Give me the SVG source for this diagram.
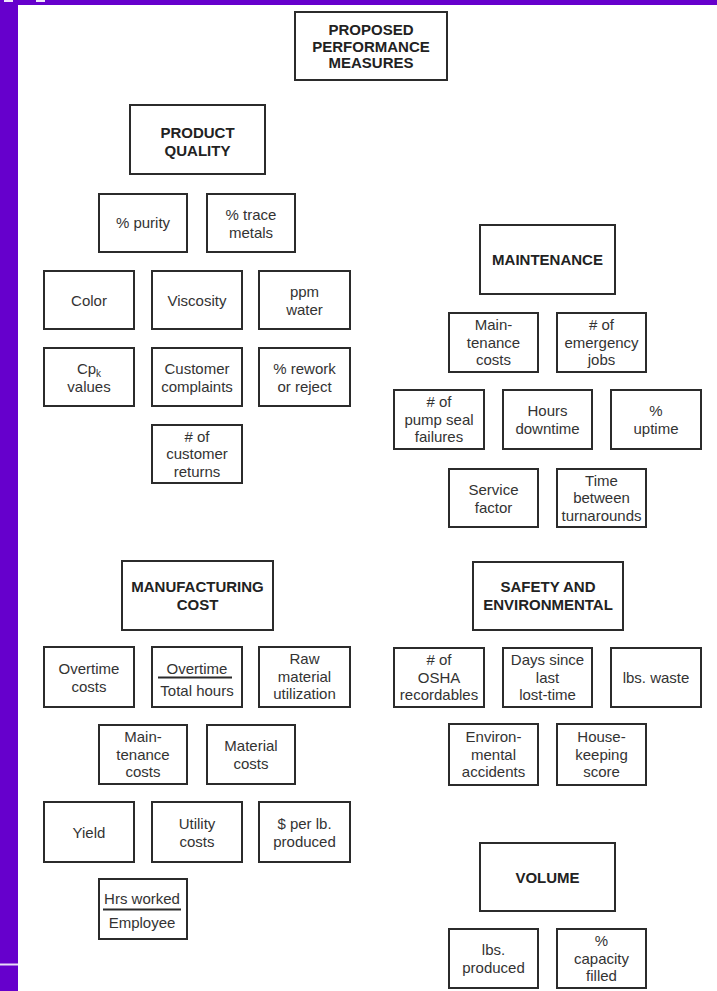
<svg xmlns="http://www.w3.org/2000/svg" width="717" height="991" viewBox="0 0 717 991">
<style>
.b{fill:#fff;stroke:#2b2b2b;stroke-width:2}
.t{font-family:"Liberation Sans",Arial,sans-serif;font-size:15px;fill:#333;text-anchor:middle}
.h{font-family:"Liberation Sans",Arial,sans-serif;font-size:15px;font-weight:bold;fill:#222;text-anchor:middle}
.f{stroke:#2b2b2b;stroke-width:2}
</style>
<rect x="0" y="0" width="717" height="991" fill="#fff"/>
<g id="frame">
<rect x="0" y="0" width="717" height="5" fill="#6600cc"/>
<rect x="0" y="0" width="18" height="991" fill="#6600cc"/>
<rect x="4" y="0" width="9" height="2" fill="#eee6fb"/>
<rect x="36" y="0" width="9" height="2" fill="#eee6fb"/>
<rect x="0" y="963.5" width="18" height="2" fill="#e8dcf8"/>
</g>
<g id="connectors"/>

<g id="proposed"><rect class="b" x="295" y="12" width="152" height="68"/>
<text class="h" x="371" y="35">PROPOSED</text><text class="h" x="371" y="51.5">PERFORMANCE</text><text class="h" x="371" y="68">MEASURES</text></g>

<g id="product-quality"><rect class="b" x="130" y="105" width="135" height="69"/>
<text class="h" x="197.5" y="138">PRODUCT</text><text class="h" x="197.5" y="155.5">QUALITY</text></g>
<g id="purity"><rect class="b" x="99" y="194" width="88" height="58"/><text class="t" x="143" y="228">% purity</text></g>
<g id="trace-metals"><rect class="b" x="207" y="194" width="88" height="58"/><text class="t" x="251" y="220">% trace</text><text class="t" x="251" y="238">metals</text></g>
<g id="color"><rect class="b" x="44" y="271" width="90" height="58"/><text class="t" x="89" y="305.5">Color</text></g>
<g id="viscosity"><rect class="b" x="152" y="271" width="90" height="58"/><text class="t" x="197" y="305.5">Viscosity</text></g>
<g id="ppm-water"><rect class="b" x="259" y="271" width="91" height="58"/><text class="t" x="304.5" y="296.5">ppm</text><text class="t" x="304.5" y="314.5">water</text></g>
<g id="cpk"><rect class="b" x="44" y="348" width="90" height="58"/><text class="t" x="89" y="373.5">Cp<tspan font-size="10" dy="3">k</tspan></text><text class="t" x="89" y="391.5">values</text></g>
<g id="complaints"><rect class="b" x="152" y="348" width="90" height="58"/><text class="t" x="197" y="373.5">Customer</text><text class="t" x="197" y="391.5">complaints</text></g>
<g id="rework"><rect class="b" x="259" y="348" width="91" height="58"/><text class="t" x="304.5" y="373.5">% rework</text><text class="t" x="304.5" y="391.5">or reject</text></g>
<g id="returns"><rect class="b" x="152" y="425" width="90" height="58"/><text class="t" x="197" y="441.5"># of</text><text class="t" x="197" y="459">customer</text><text class="t" x="197" y="476.5">returns</text></g>

<g id="maintenance"><rect class="b" x="480" y="225" width="135" height="69"/><text class="h" x="547.5" y="265">MAINTENANCE</text></g>
<g id="maint-costs"><rect class="b" x="449" y="313" width="89" height="59"/><text class="t" x="493.5" y="330">Main-</text><text class="t" x="493.5" y="347.5">tenance</text><text class="t" x="493.5" y="365">costs</text></g>
<g id="emergency"><rect class="b" x="557" y="313" width="89" height="59"/><text class="t" x="601.5" y="330"># of</text><text class="t" x="601.5" y="347.5">emergency</text><text class="t" x="601.5" y="365">jobs</text></g>
<g id="pump-seal"><rect class="b" x="394" y="390" width="90" height="59"/><text class="t" x="439" y="407"># of</text><text class="t" x="439" y="424.5">pump seal</text><text class="t" x="439" y="442">failures</text></g>
<g id="downtime"><rect class="b" x="503" y="390" width="89" height="59"/><text class="t" x="547.5" y="416">Hours</text><text class="t" x="547.5" y="434">downtime</text></g>
<g id="uptime"><rect class="b" x="611" y="390" width="90" height="59"/><text class="t" x="656" y="416">%</text><text class="t" x="656" y="434">uptime</text></g>
<g id="service"><rect class="b" x="449" y="469" width="89" height="58"/><text class="t" x="493.5" y="494.5">Service</text><text class="t" x="493.5" y="512.5">factor</text></g>
<g id="turnarounds"><rect class="b" x="557" y="469" width="89" height="58"/><text class="t" x="601.5" y="485.5">Time</text><text class="t" x="601.5" y="503">between</text><text class="t" x="601.5" y="520.5" font-size="14.5">turnarounds</text></g>

<g id="manufacturing"><rect class="b" x="122" y="561" width="151" height="69"/><text class="h" x="197.5" y="592">MANUFACTURING</text><text class="h" x="197.5" y="609.5">COST</text></g>
<g id="overtime-costs"><rect class="b" x="44" y="647" width="90" height="60"/><text class="t" x="89" y="673.5">Overtime</text><text class="t" x="89" y="691.5">costs</text></g>
<g id="overtime-ratio"><rect class="b" x="152" y="647" width="90" height="60"/><text class="t" x="197" y="673.5">Overtime</text><line class="f" x1="158" y1="677.5" x2="232" y2="677.5"/><text class="t" x="197" y="696">Total hours</text></g>
<g id="raw-material"><rect class="b" x="259" y="647" width="91" height="60"/><text class="t" x="304.5" y="664">Raw</text><text class="t" x="304.5" y="681.5">material</text><text class="t" x="304.5" y="699">utilization</text></g>
<g id="mfg-maint-costs"><rect class="b" x="99" y="725" width="88" height="59"/><text class="t" x="143" y="742">Main-</text><text class="t" x="143" y="759.5">tenance</text><text class="t" x="143" y="777">costs</text></g>
<g id="material-costs"><rect class="b" x="207" y="725" width="88" height="59"/><text class="t" x="251" y="751">Material</text><text class="t" x="251" y="769">costs</text></g>
<g id="yield"><rect class="b" x="44" y="802" width="90" height="60"/><text class="t" x="89" y="837.5">Yield</text></g>
<g id="utility"><rect class="b" x="152" y="802" width="90" height="60"/><text class="t" x="197" y="828.5">Utility</text><text class="t" x="197" y="846.5">costs</text></g>
<g id="per-lb"><rect class="b" x="259" y="802" width="91" height="60"/><text class="t" x="304.5" y="828.5">$ per lb.</text><text class="t" x="304.5" y="846.5">produced</text></g>
<g id="hrs-employee"><rect class="b" x="99" y="879" width="88" height="60"/><text class="t" x="142" y="903.5">Hrs worked</text><line class="f" x1="103" y1="909.5" x2="181" y2="909.5"/><text class="t" x="142" y="928">Employee</text></g>

<g id="safety"><rect class="b" x="473" y="562" width="150" height="68"/><text class="h" x="548" y="592">SAFETY AND</text><text class="h" x="548" y="609.5">ENVIRONMENTAL</text></g>
<g id="osha"><rect class="b" x="394" y="648" width="90" height="59"/><text class="t" x="439" y="665"># of</text><text class="t" x="439" y="682.5">OSHA</text><text class="t" x="439" y="700" font-size="14">recordables</text></g>
<g id="days-since"><rect class="b" x="503" y="648" width="89" height="59"/><text class="t" x="547.5" y="665">Days since</text><text class="t" x="547.5" y="682.5">last</text><text class="t" x="547.5" y="700">lost-time</text></g>
<g id="waste"><rect class="b" x="611" y="648" width="90" height="59"/><text class="t" x="656" y="683">lbs. waste</text></g>
<g id="env-accidents"><rect class="b" x="449" y="724" width="89" height="61"/><text class="t" x="493.5" y="742">Environ-</text><text class="t" x="493.5" y="759.5">mental</text><text class="t" x="493.5" y="777">accidents</text></g>
<g id="housekeeping"><rect class="b" x="557" y="724" width="89" height="61"/><text class="t" x="601.5" y="742">House-</text><text class="t" x="601.5" y="759.5">keeping</text><text class="t" x="601.5" y="777">score</text></g>

<g id="volume"><rect class="b" x="480" y="843" width="135" height="68"/><text class="h" x="547.5" y="882.5">VOLUME</text></g>
<g id="lbs-produced"><rect class="b" x="449" y="929" width="89" height="59"/><text class="t" x="493.5" y="955">lbs.</text><text class="t" x="493.5" y="973">produced</text></g>
<g id="capacity"><rect class="b" x="557" y="929" width="89" height="59"/><text class="t" x="601.5" y="946">%</text><text class="t" x="601.5" y="963.5">capacity</text><text class="t" x="601.5" y="981">filled</text></g>
</svg>
